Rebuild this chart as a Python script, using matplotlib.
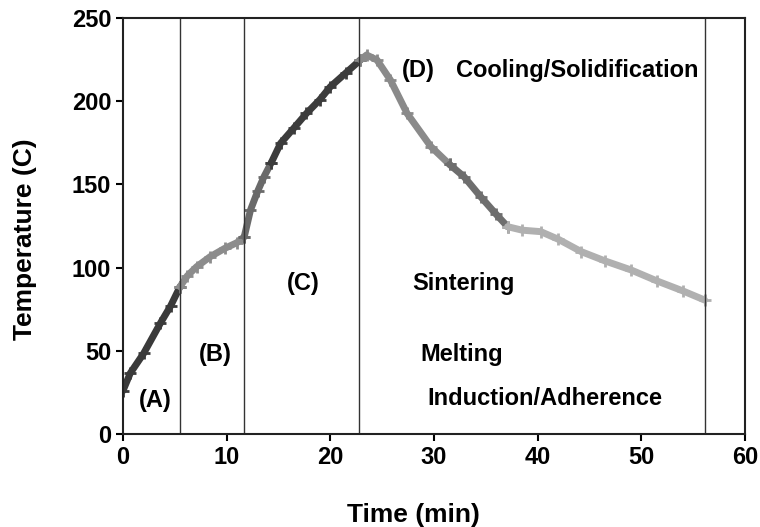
import matplotlib.pyplot as plt
import numpy as np

plt.rcParams['font.family'] = ['Liberation Sans', 'DejaVu Sans']

# temperature curve, split in the shaded pieces of the original
t_a = [0, 0.7, 2.0, 3.6, 4.6, 5.5]
T_a = [26, 36.5, 48.5, 66.5, 77, 88.5]

t_b = [5.5, 6.2, 7.1, 8.4, 9.8, 11.0, 11.7]
T_b = [88.5, 95, 100.5, 106.5, 111.5, 115, 118.6]

t_c1 = [11.7, 12.3, 13.0, 13.6, 14.3]
T_c1 = [118.6, 134.6, 146, 154.6, 163]

t_c2 = [14.3, 15.2, 16.5, 17.7, 19.0, 20.0, 21.5, 22.9]
T_c2 = [163, 174.7, 184, 192.7, 201, 208.7, 217, 224.8]

t_d1 = [22.9, 23.5, 24.5, 25.8, 27.4, 29.7, 31.5]
T_d1 = [224.8, 227.8, 224.8, 212.7, 192.7, 172.7, 162]

t_d2 = [31.5, 32.9, 34.5, 36.0, 37.1]
T_d2 = [162, 154.6, 142.6, 132, 124.6]

t_e = [37.1, 38.5, 40.3, 42.0, 44.2, 46.5, 49.0, 51.5, 54.0, 56.1]
T_e = [124.6, 122.5, 121.6, 117, 109.6, 104, 98.6, 92, 86, 80.5]

pieces = [(t_a, T_a, '#3a3a3a'), (t_b, T_b, '#8c8c8c'), (t_c1, T_c1, '#6a6a6a'),
          (t_c2, T_c2, '#3c3c3c'), (t_d1, T_d1, '#8a8a8a'), (t_d2, T_d2, '#6e6e6e'),
          (t_e, T_e, '#b0b0b0')]

stage_bounds = [5.5, 11.7, 22.8, 56.1]

labels = ['(A)', '(B)', '(C)', '(D)', 'Cooling/Solidification', 'Sintering', 'Melting', 'Induction/Adherence']
label_t = [3.1, 8.9, 17.4, 28.5, 32.1, 27.9, 28.7, 29.4]
label_T = [20, 47.5, 90.7, 218.7, 218.7, 90.7, 47.5, 21.6]
label_ha = ['center', 'center', 'center', 'center', 'left', 'left', 'left', 'left']

fig = plt.figure(figsize=(7.6, 5.27), dpi=100)
ax = fig.add_axes([0.1618, 0.1765, 0.8185, 0.7893])

for t, T, c in pieces:
    ax.plot(t, T, color=c, lw=5, marker='+', ms=8, mew=2, solid_capstyle='round')

for b in stage_bounds:
    ax.axvline(b, color='#333333', lw=1)

for s, x, y, ha in zip(labels, label_t, label_T, label_ha):
    ax.text(x, y, s, ha=ha, va='center', fontsize=17, fontweight='bold')

ax.set_xlim(0, 60)
ax.set_ylim(0, 250)
ax.set_xticks(range(0, 61, 10))
ax.set_yticks(range(0, 251, 50))
ax.tick_params(direction='out', length=5, width=1.5, labelsize=17, top=False, right=False)
for lab in ax.get_xticklabels() + ax.get_yticklabels():
    lab.set_fontweight('bold')
for sp in ax.spines.values():
    sp.set_linewidth(1.5)
    sp.set_color('#222222')

ax.set_xlabel('Time (min)', fontsize=19, fontweight='bold', va='center')
ax.set_ylabel('Temperature (C)', fontsize=19, fontweight='bold', va='center')
ax.xaxis.set_label_coords(0.467, -0.195)
ax.yaxis.set_label_coords(-0.1576, 0.4675)

fig.savefig('out.png', dpi=100)
